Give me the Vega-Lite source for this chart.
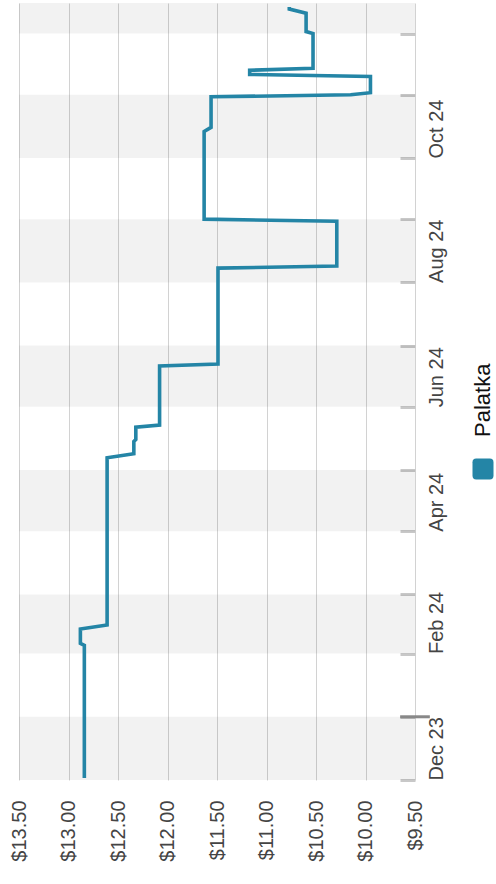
{
  "$schema": "https://vega.github.io/schema/vega-lite/v6.json",
  "autosize": "none",
  "width": 396,
  "height": 777,
  "padding": {"left": 19, "top": 3, "right": 81, "bottom": 104},
  "config": {
    "font": "Liberation Sans",
    "view": {"stroke": null},
    "background": "white"
  },
  "datasets": {
    "prices": [
      {"date": "2023-12-02", "price": 12.84, "store": "Palatka"},
      {"date": "2024-02-05", "price": 12.84, "store": "Palatka"},
      {"date": "2024-02-06", "price": 12.88, "store": "Palatka"},
      {"date": "2024-02-13", "price": 12.88, "store": "Palatka"},
      {"date": "2024-02-15", "price": 12.61, "store": "Palatka"},
      {"date": "2024-05-07", "price": 12.61, "store": "Palatka"},
      {"date": "2024-05-09", "price": 12.34, "store": "Palatka"},
      {"date": "2024-05-15", "price": 12.34, "store": "Palatka"},
      {"date": "2024-05-16", "price": 12.32, "store": "Palatka"},
      {"date": "2024-05-22", "price": 12.32, "store": "Palatka"},
      {"date": "2024-05-23", "price": 12.08, "store": "Palatka"},
      {"date": "2024-06-21", "price": 12.08, "store": "Palatka"},
      {"date": "2024-06-22", "price": 11.49, "store": "Palatka"},
      {"date": "2024-08-08", "price": 11.49, "store": "Palatka"},
      {"date": "2024-08-09", "price": 10.29, "store": "Palatka"},
      {"date": "2024-08-31", "price": 10.29, "store": "Palatka"},
      {"date": "2024-09-01", "price": 11.63, "store": "Palatka"},
      {"date": "2024-10-14", "price": 11.63, "store": "Palatka"},
      {"date": "2024-10-16", "price": 11.56, "store": "Palatka"},
      {"date": "2024-10-31", "price": 11.56, "store": "Palatka"},
      {"date": "2024-11-01", "price": 10.15, "store": "Palatka"},
      {"date": "2024-11-02", "price": 9.95, "store": "Palatka"},
      {"date": "2024-11-10", "price": 9.95, "store": "Palatka"},
      {"date": "2024-11-11", "price": 11.17, "store": "Palatka"},
      {"date": "2024-11-13", "price": 11.17, "store": "Palatka"},
      {"date": "2024-11-14", "price": 10.53, "store": "Palatka"},
      {"date": "2024-12-01", "price": 10.53, "store": "Palatka"},
      {"date": "2024-12-02", "price": 10.6, "store": "Palatka"},
      {"date": "2024-12-11", "price": 10.6, "store": "Palatka"},
      {"date": "2024-12-13", "price": 10.77, "store": "Palatka"},
      {"date": "2024-12-14", "price": 10.77, "store": "Palatka"}
    ],
    "bands": [
      {"start": "2023-12-01", "end": "2024-01-01"},
      {"start": "2024-02-01", "end": "2024-03-01"},
      {"start": "2024-04-01", "end": "2024-05-01"},
      {"start": "2024-06-01", "end": "2024-07-01"},
      {"start": "2024-08-01", "end": "2024-09-01"},
      {"start": "2024-10-01", "end": "2024-11-01"},
      {"start": "2024-12-01", "end": "2024-12-16"}
    ]
  },
  "layer": [
    {
      "data": {"name": "bands"},
      "mark": {"type": "rect", "color": "#000000", "opacity": 0.052},
      "encoding": {
        "y": {"field": "start", "type": "temporal", "title": null},
        "y2": {"field": "end"}
      }
    },
    {
      "data": {"name": "prices"},
      "mark": {"type": "line", "strokeWidth": 3.6, "strokeCap": "butt", "strokeJoin": "miter"},
      "encoding": {
        "x": {
          "field": "price", "type": "quantitative",
          "scale": {"domain": [9.5, 13.5], "reverse": true, "nice": false, "zero": false},
          "axis": {
            "orient": "bottom", "title": null,
            "values": [9.5, 10, 10.5, 11, 11.5, 12, 12.5, 13, 13.5],
            "format": "$.2f",
            "labelAngle": 270, "labelAlign": "right", "labelBaseline": "middle",
            "labelPadding": 20, "ticks": false, "domain": false,
            "grid": true, "gridColor": "#d2d2d2", "gridWidth": 1,
            "labelFontSize": 20, "labelColor": "#444444",
            "labelFlush": false, "labelOverlap": false, "labelBound": false
          }
        },
        "y": {
          "field": "date", "type": "temporal", "title": null,
          "scale": {
            "type": "utc",
            "domain": [
              {"year": 2023, "month": 12, "date": 1, "utc": true},
              {"year": 2024, "month": 12, "date": 16, "utc": true}
            ]
          },
          "axis": {
            "orient": "right", "title": null,
            "tickCount": {"interval": "month", "step": 1},
            "labelExpr": "(utcmonth(datum.value) % 2 == 1 && !(utcyear(datum.value) == 2024 && utcmonth(datum.value) == 11)) ? utcFormat(datum.value, '%b %y') : ''",
            "labelAngle": 270, "labelAlign": "left", "labelBaseline": "middle",
            "ticks": true, "tickSize": -15, "tickWidth": 3, "tickColor": "#c8c8c8",
            "labelPadding": 36, "domain": false, "grid": false,
            "labelFontSize": 20, "labelColor": "#444444",
            "labelFlush": false, "labelOverlap": false, "labelBound": false
          }
        },
        "order": {"field": "date", "type": "temporal"},
        "color": {
          "field": "store", "type": "nominal",
          "scale": {"range": ["#2485a6"]},
          "legend": {
            "title": null, "orient": "none", "legendX": 453, "legendY": 455,
            "symbolType": "M-0.65,-1H0.65Q1,-1,1,-0.65V0.65Q1,1,0.65,1H-0.65Q-1,1,-1,0.65V-0.65Q-1,-1,-0.65,-1Z",
            "symbolSize": 441, "symbolFillColor": "#2485a6", "symbolStrokeWidth": 0,
            "labelFontSize": 22, "labelColor": "#111111",
            "labelAlign": "left", "labelBaseline": "middle",
            "encoding": {
              "symbols": {"fill": {"value": "#2485a6"}, "strokeWidth": {"value": 0}},
              "labels": {"angle": {"value": 270}, "dx": {"value": 32}, "dy": {"value": -15.5}}
            }
          }
        }
      }
    },
    {
      "data": {"values": [{}]},
      "mark": {"type": "rule", "color": "#888888", "strokeWidth": 3},
      "encoding": {
        "y": {"datum": {"year": 2024, "month": 1, "date": 1, "utc": true}, "type": "temporal"},
        "x": {"datum": 9.65},
        "x2": {"datum": 9.35}
      }
    }
  ]
}
